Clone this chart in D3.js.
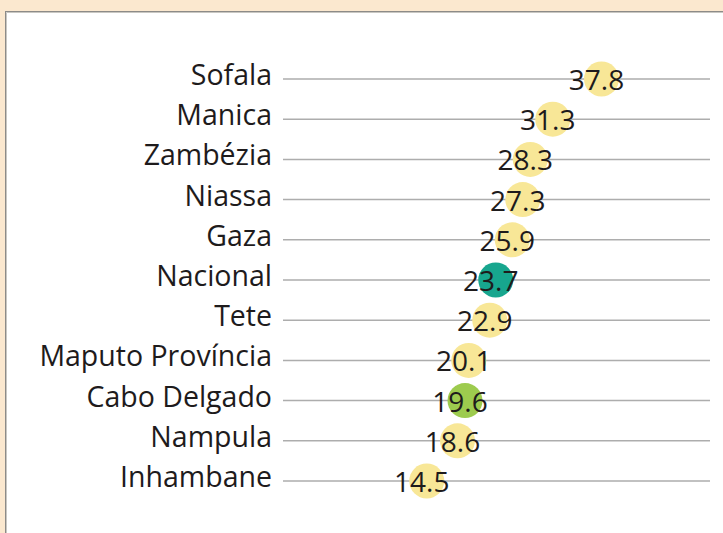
<!DOCTYPE html>
<html>
<head>
<meta charset="utf-8">
<script src="https://cdn.jsdelivr.net/npm/d3@7"></script>
<style>
  html, body { margin: 0; padding: 0; background: #fbe8cf; }
  svg { display: block; }
  text { font-family: "Open Sans", "Noto Sans", sans-serif; fill: #1e1b1c; }
</style>
</head>
<body>
<script>
var width = 723, height = 533;

// data, top to bottom
var provinces = ["Sofala", "Manica", "Zambézia", "Niassa", "Gaza", "Nacional",
  "Tete", "Maputo Província", "Cabo Delgado", "Nampula", "Inhambane"];
var rates = [37.8, 31.3, 28.3, 27.3, 25.9, 23.7, 22.9, 20.1, 19.6, 18.6, 14.5];
var highlight = { "Nacional": "#17a68e", "Cabo Delgado": "#9dcb4e" };

var rows = provinces.map((p, i) => ({ name: p, value: rates[i] }));

var svg = d3.select("body").append("svg")
  .attr("width", width)
  .attr("height", height);

// paper panel
svg.append("rect")
  .attr("x", 5.5).attr("y", 11.5)
  .attr("width", width).attr("height", height)
  .attr("fill", "#fff")
  .attr("stroke", "#8c8b88")
  .attr("stroke-width", 1);
svg.append("path")
  .attr("d", "M6.5," + height + "V12.5H" + width)
  .attr("fill", "none")
  .attr("stroke", "#c9c7c2")
  .attr("stroke-width", 1);

var y = d3.scalePoint()
  .domain(provinces)
  .range([79, 481]);

var x = d3.scaleLinear()
  .domain([0, 40])
  .range([318, 618]);

var lineStart = 283, lineEnd = 710;

// guide lines
svg.append("g").attr("class", "lines")
  .selectAll("line")
  .data(rows)
  .enter()
  .append("line")
  .attr("x1", lineStart)
  .attr("x2", lineEnd)
  .attr("y1", d => y(d.name))
  .attr("y2", d => y(d.name))
  .attr("stroke", "#adadad")
  .attr("stroke-width", 1.5);

// category labels
svg.append("g").attr("class", "labels")
  .selectAll("text")
  .data(rows)
  .enter()
  .append("text")
  .attr("x", 272)
  .attr("y", d => y(d.name) + 6)
  .attr("text-anchor", "end")
  .attr("font-size", 28.5)
  .text(d => d.name);

// dots
svg.append("g").attr("class", "dots")
  .selectAll("circle")
  .data(rows)
  .enter()
  .append("circle")
  .attr("cx", d => x(d.value))
  .attr("cy", d => y(d.name))
  .attr("r", 17.5)
  .attr("fill", d => highlight[d.name] || "#f8e797");

// values
svg.append("g").attr("class", "values")
  .selectAll("text")
  .data(rows)
  .enter()
  .append("text")
  .attr("x", d => x(d.value) - 5)
  .attr("y", d => y(d.name) + 11)
  .attr("text-anchor", "middle")
  .attr("font-size", 28)
  .text(d => d.value.toFixed(1));
</script>
</body>
</html>
